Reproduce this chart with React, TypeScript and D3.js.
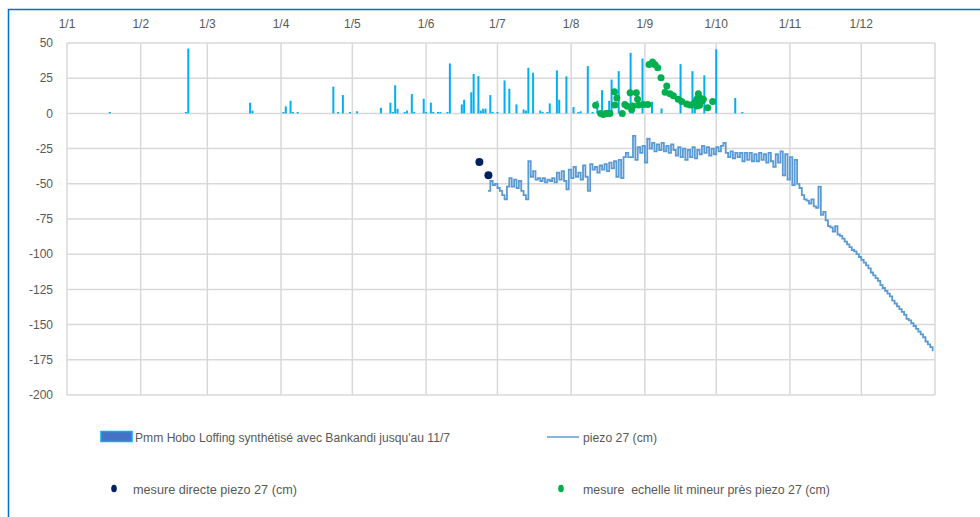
import React from "react";
import * as d3 from "d3";

const YEAR = 2019;

const monthTickLabels = ["1/1", "1/2", "1/3", "1/4", "1/5", "1/6", "1/7", "1/8", "1/9", "1/10", "1/11", "1/12"];
const yTicks = [50, 25, 0, -25, -50, -75, -100, -125, -150, -175, -200];

// Pmm Hobo Loffing (daily rain, mm)
const rainDates = ["01-19","02-20","02-21","03-19","03-20","04-02","04-03","04-05","04-06","04-08","04-23","04-25","04-27","04-30","05-03","05-13","05-17","05-18","05-19","05-20","05-23","05-24","05-26","05-27","05-31","06-01","06-03","06-04","06-06","06-07","06-10","06-11","06-16","06-17","06-20","06-21","06-23","06-24","06-25","06-26","06-28","06-29","07-01","07-04","07-06","07-09","07-12","07-13","07-14","07-16","07-19","07-20","07-22","07-23","07-26","07-27","07-30","08-02","08-04","08-05","08-08","08-10","08-12","08-14","08-17","08-18","08-21","08-26","08-27","08-31","09-04","09-08","09-16","09-21","09-22","09-26","10-01","10-09","10-12"];
const rainValues = [1,1,46,7.6,2,1,5,9,1,1,19,1,13,1,1.5,4,7.6,1,20,3.3,1,2,13.7,1,10.4,1,7.6,1,1,1,1,35.5,6.4,9.7,15,28,26.5,2,3.3,3.4,13,1,1,23.4,17.5,6.4,2.8,2,32.4,28.9,2,1,1,7.1,30.5,9.7,26.3,4.5,1,1.5,33.6,1,9,16.5,9,24,30,43,5,39,8.3,3.5,35,30,4,27,45.5,11,1];

// piezo 27 (cm), daily from 06-27 to 12-31
const piezoStart = "06-27";
const piezoValues = [
  -55,-48,-51,-50,-53,-55,-58,-61,-52,-46,
  -52,-47,-53,-48,-55,-58,-61,-34,-45,-41,
  -47,-46,-48,-46,-49,-47,-48,-46,-49,-42,
  -47,-41,-48,-54,-40,-46,-38,-45,-42,-47,
  -37,-45,-55,-36,-40,-38,-42,-37,-40,-36,
  -41,-35,-39,-34,-45,-33,-46,-31,-28,-31,
  -31,-16,-33,-24,-28,-23,-35,-18,-25,-21,
  -27,-22,-26,-21,-27,-23,-28,-22,-26,-30,
  -24,-31,-25,-33,-26,-31,-24,-32,-26,-29,
  -23,-28,-24,-30,-25,-29,-24,-27,-23,-21,
  -28,-31,-27,-32,-28,-31,-28,-34,-28,-33,
  -28,-34,-29,-34,-28,-33,-29,-35,-28,-34,
  -38,-29,-35,-27,-44,-29,-47,-31,-51,-33,
  -50,-53,-58,-61,-62,-64,-61,-66,-67,-52,
  -72,-70,-76,-80,-81,-84,-80,-86,-87,-89,
  -91,-93,-95,-97,-98,-100,-102,-104,-106,-108,
  -110,-113,-115,-117,-119,-122,-124,-126,-128,-130,
  -133,-135,-137,-139,-141,-143,-146,-147,-149,-151,
  -153,-155,-157,-159,-162,-164,-166,-169,
];

// mesure directe piezo 27 (cm)
const directDates = ["06-23 10", "06-27 05"];
const directValues = [-34.6, -44];

// mesure echelle lit mineur près piezo 27 (cm)
const scaleDates = ["08-11 07","08-13 10","08-14 12","08-15 12","08-16 05","08-17 07","08-19 05","08-19 10","08-20 05","08-22 12","08-23 14","08-24 14","08-25 19","08-26 10","08-26 22","08-28 10","08-28 22","08-29 07","08-31 10","09-02 06","09-02 18","09-04 05","09-05 07","09-06 10","09-07 19","09-09 12","09-10 05","09-11 14","09-13 00","09-15 00","09-16 12","09-18 14","09-20 00","09-21 10","09-22 00","09-22 19","09-22 20","09-23 12","09-24 00","09-24 05","09-24 22","09-25 14","09-27 10","09-29 12"];
const scaleValues = [5.7,0,-0.7,0,0,0,15.4,6,11,0,6.4,5,14.7,2.8,5.2,14.7,10,6,6.4,6.4,34.8,36.5,34.5,32.4,25.3,15,19.5,14,12.5,10,8.5,6.6,6,6.4,7.6,10,5.2,14,5.7,11,8.8,10,4,8.5];

const parseDay = d3.timeParse("%Y-%m-%d");
const parseHour = d3.timeParse("%Y-%m-%d %H");

export default function App() {
  const W = 980, H = 517;
  const left = 67, right = 935, top = 43, bottom = 395;
  const x = d3.scaleTime().domain([new Date(YEAR, 0, 1), new Date(YEAR + 1, 0, 1)]).range([left, right]);
  const y = d3.scaleLinear().domain([-200, 50]).range([bottom, top]);

  const months = d3.timeMonth.range(new Date(YEAR, 0, 1), new Date(YEAR + 1, 0, 1));
  const rain = rainDates.map((d, i) => ({ date: parseDay(`${YEAR}-${d}`)!, v: rainValues[i] }));
  const start = parseDay(`${YEAR}-${piezoStart}`)!;
  const piezo = piezoValues.map((v, i) => ({ date: d3.timeDay.offset(start, i), v }));
  const direct = directDates.map((d, i) => ({ date: parseHour(`${YEAR}-${d}`)!, v: directValues[i] }));
  const scale = scaleDates.map((d, i) => ({ date: parseHour(`${YEAR}-${d}`)!, v: scaleValues[i] }));

  const line = d3.line<{ date: Date; v: number }>().x(d => x(d.date)).y(d => y(d.v)).curve(d3.curveStepAfter);

  const font = "'Liberation Sans', Arial, sans-serif";
  const txt = "#595959";
  const grid = "#d9d9d9";

  return (
    <div style={{ position: "absolute", left: 0, top: 0, width: W, height: H, background: "#fff" }}>
      <svg width={W} height={H} style={{ display: "block" }} fontFamily={font}>
        <rect x={0} y={0} width={W} height={H} fill="#fff" />
        <rect x={8.5} y={9.5} width={1200} height={800} fill="none" stroke="#0070C0" strokeWidth={1.5} />
        {yTicks.map(t => (
          <line key={"h" + t} x1={left} x2={right} y1={y(t)} y2={y(t)} stroke={grid} strokeWidth={1.5} />
        ))}
        {months.map((m, i) => (
          <line key={"v" + i} x1={x(m)} x2={x(m)} y1={top} y2={bottom} stroke={grid} strokeWidth={1.5} />
        ))}
        <line x1={right} x2={right} y1={top} y2={bottom} stroke={grid} strokeWidth={1.5} />
        {yTicks.map(t => (
          <text key={"yl" + t} x={53} y={y(t)} dy="0.35em" textAnchor="end" fontSize={12} fill={txt}>{t}</text>
        ))}
        {months.map((m, i) => (
          <text key={"xl" + i} x={x(m)} y={28} textAnchor="middle" fontSize={12} fill={txt}>{monthTickLabels[i]}</text>
        ))}
        {rain.map((d, i) => (
          <rect key={"b" + i} x={x(d.date) - 1} width={2} y={y(d.v)} height={y(0) - y(d.v)} fill="#00B0F0" />
        ))}
        <path d={line(piezo) || ""} fill="none" stroke="#5B9BD5" strokeWidth={1.8} />
        {direct.map((d, i) => (
          <circle key={"d" + i} cx={x(d.date)} cy={y(d.v)} r={4} fill="#002060" />
        ))}
        {scale.map((d, i) => (
          <circle key={"g" + i} cx={x(d.date)} cy={y(d.v)} r={3.5} fill="#00B050" />
        ))}
        <rect x={101} y={431.5} width={31} height={10} fill="#4472C4" stroke="#00B0F0" strokeWidth={1.5} />
        <text x={135} y={441.5} fontSize={12.5} fill={txt} textLength={315} lengthAdjust="spacingAndGlyphs">Pmm Hobo Loffing synthétisé avec Bankandi jusqu'au 11/7</text>
        <line x1={547} x2={579} y1={437} y2={437} stroke="#5B9BD5" strokeWidth={1.5} />
        <text x={583} y={441.5} fontSize={12.5} fill={txt} textLength={74} lengthAdjust="spacingAndGlyphs">piezo 27 (cm)</text>
        <ellipse cx={114} cy={488.5} rx={2.8} ry={3.8} fill="#002060" />
        <text x={133} y={494} fontSize={12.5} fill={txt} textLength={164} lengthAdjust="spacingAndGlyphs">mesure directe piezo 27 (cm)</text>
        <ellipse cx={561} cy={488.5} rx={2.8} ry={3.8} fill="#00B050" />
        <text x={583} y={494} fontSize={12.5} fill={txt} textLength={247} lengthAdjust="spacingAndGlyphs" style={{ whiteSpace: "pre" }}>{"mesure  echelle lit mineur près piezo 27 (cm)"}</text>
      </svg>
    </div>
  );
}
